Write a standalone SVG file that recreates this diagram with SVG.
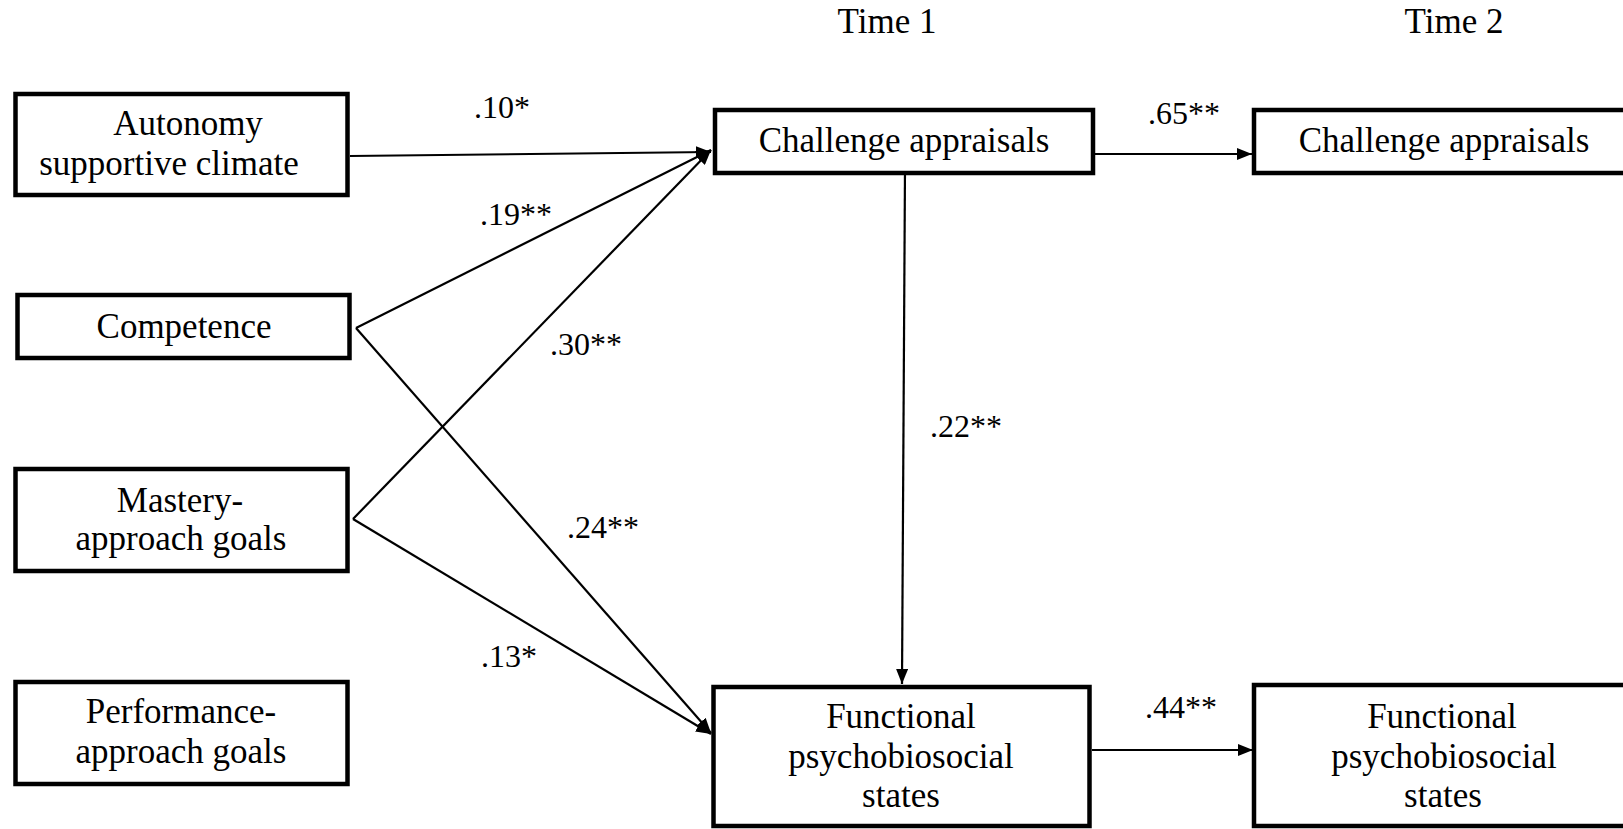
<svg xmlns="http://www.w3.org/2000/svg" width="1623" height="829" viewBox="0 0 1623 829">
  <style>
    .box { fill: #ffffff; stroke: #000000; stroke-width: 4.5; }
    .lbl { font-family: "Liberation Serif", "Times New Roman", serif; font-size: 35px; fill: #000000; text-anchor: middle; }
    .coef { font-family: "Liberation Serif", "Times New Roman", serif; font-size: 32px; fill: #000000; }
    .edge { stroke: #000000; stroke-width: 2.2; fill: none; marker-end: url(#arrow); }
  </style>
  <defs>
    <marker id="arrow" markerUnits="userSpaceOnUse" markerWidth="16" markerHeight="12" refX="15" refY="6" orient="auto">
      <path d="M0,0 L15,6 L0,12 Z" fill="#000000"/>
    </marker>
  </defs>
  <rect width="1623" height="829" fill="#ffffff"/>

  <!-- column headings -->
  <text class="lbl" x="887" y="33">Time 1</text>
  <text class="lbl" x="1454" y="33">Time 2</text>

  <!-- connectors -->
  <g id="connectors">
    <line class="edge" x1="350" y1="156" x2="711" y2="152"/>
    <line class="edge" x1="356" y1="328" x2="711" y2="150"/>
    <line class="edge" x1="353" y1="519" x2="711" y2="150"/>
    <line class="edge" x1="356" y1="328" x2="711" y2="733"/>
    <line class="edge" x1="353" y1="519" x2="711" y2="734"/>
    <line class="edge" x1="905" y1="167" x2="902" y2="684"/>
    <line class="edge" x1="1095" y1="154" x2="1252" y2="154"/>
    <line class="edge" x1="1092" y1="750" x2="1253" y2="750"/>
    <text class="coef" x="474" y="118">.10*</text>
    <text class="coef" x="480" y="225">.19**</text>
    <text class="coef" x="550" y="355">.30**</text>
    <text class="coef" x="930" y="437">.22**</text>
    <text class="coef" x="567" y="538">.24**</text>
    <text class="coef" x="481" y="667">.13*</text>
    <text class="coef" x="1148" y="124">.65**</text>
    <text class="coef" x="1145" y="718">.44**</text>
  </g>

  <!-- predictor nodes -->
  <g id="autonomy">
    <rect class="box" x="15.5" y="94" width="332" height="101"/>
    <text class="lbl" x="188" y="135">Autonomy</text>
    <text class="lbl" x="169" y="175">supportive climate</text>
  </g>
  <g id="competence">
    <rect class="box" x="17.5" y="295" width="332" height="63"/>
    <text class="lbl" x="184" y="338">Competence</text>
  </g>
  <g id="mastery">
    <rect class="box" x="15.5" y="469" width="332" height="102"/>
    <text class="lbl" x="180" y="512">Mastery-</text>
    <text class="lbl" x="181" y="550">approach goals</text>
  </g>
  <g id="performance">
    <rect class="box" x="15.5" y="682" width="332" height="102"/>
    <text class="lbl" x="181" y="723">Performance-</text>
    <text class="lbl" x="181" y="763">approach goals</text>
  </g>

  <!-- Time 1 outcomes -->
  <g id="challenge-t1">
    <rect class="box" x="715" y="110" width="378" height="63"/>
    <text class="lbl" x="904" y="152">Challenge appraisals</text>
  </g>
  <g id="functional-t1">
    <rect class="box" x="713.5" y="687" width="376" height="139"/>
    <text class="lbl" x="901" y="728">Functional</text>
    <text class="lbl" x="901" y="768">psychobiosocial</text>
    <text class="lbl" x="901" y="807">states</text>
  </g>

  <!-- Time 2 outcomes -->
  <g id="challenge-t2">
    <rect class="box" x="1254" y="110" width="420" height="63"/>
    <text class="lbl" x="1444" y="152">Challenge appraisals</text>
  </g>
  <g id="functional-t2">
    <rect class="box" x="1254" y="685" width="420" height="141"/>
    <text class="lbl" x="1442" y="728">Functional</text>
    <text class="lbl" x="1444" y="768">psychobiosocial</text>
    <text class="lbl" x="1443" y="807">states</text>
  </g>
</svg>
